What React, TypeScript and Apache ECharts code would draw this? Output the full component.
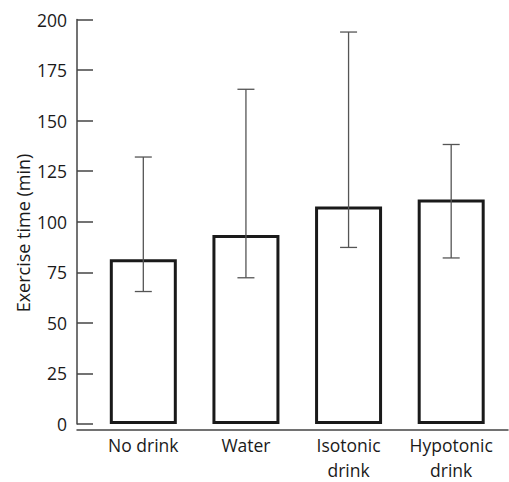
import React, { useEffect, useRef } from "react";
import * as echarts from "echarts";

const categories = ["No drink", "Water", "Isotonic\ndrink", "Hypotonic\ndrink"];
const means = [81.5, 93.5, 107.5, 111];
const errLow = [65.5, 72.3, 87.3, 82.1];
const errHigh = [132, 165.5, 193.8, 138.2];
const yMin = 0;
const yMax = 200;
const yStep = 25;
const yTitle = "Exercise time (min)";

const FONT = "Open Sans";

export default function App() {
  const ref = useRef<HTMLDivElement>(null);
  useEffect(() => {
    if (!ref.current) return;
    const chart = echarts.init(ref.current, undefined, { renderer: "svg" });
    const top = 19.5;
    const bottom = 52;
    chart.setOption({
      animation: false,
      backgroundColor: "#ffffff",
      grid: [
        { left: 92, width: 410.5, top, bottom },
        { left: 77, right: 1, top, bottom },
      ],
      graphic: [
        {
          type: "text",
          x: 23,
          y: 233,
          rotation: Math.PI / 2,
          style: {
            text: yTitle,
            fill: "#1a1a1a",
            font: `18px "${FONT}"`,
            align: "center",
            verticalAlign: "middle",
          },
        },
      ],
      xAxis: [
        {
          type: "category",
          gridIndex: 0,
          data: categories,
          axisLine: { show: false },
          axisTick: { show: false },
          axisLabel: {
            interval: 0,
            hideOverlap: false,
            color: "#1a1a1a",
            fontFamily: FONT,
            fontSize: 17.5,
            lineHeight: 25,
            margin: 8,
          },
        },
        {
          type: "value",
          gridIndex: 1,
          min: 0,
          max: 1,
          axisLine: { show: true, lineStyle: { color: "#444", width: 1.5 } },
          axisTick: { show: false },
          axisLabel: { show: false },
          splitLine: { show: false },
        },
      ],
      yAxis: [
        {
          type: "value",
          gridIndex: 0,
          min: yMin,
          max: yMax,
          interval: yStep,
          offset: 15,
          axisLine: { show: true, lineStyle: { color: "#444", width: 1.5 } },
          axisTick: {
            show: true,
            inside: true,
            length: 16,
            lineStyle: { color: "#444", width: 1.5 },
          },
          axisLabel: {
            color: "#1a1a1a",
            fontFamily: FONT,
            fontSize: 17.5,
            margin: 10,
          },
          splitLine: { show: false },
        },
        {
          type: "value",
          gridIndex: 1,
          min: yMin,
          max: yMax,
          show: false,
        },
      ],
      series: [
        {
          type: "bar",
          xAxisIndex: 0,
          yAxisIndex: 0,
          data: means,
          barWidth: 67,
          itemStyle: { color: "#ffffff", borderColor: "#1a1a1a", borderWidth: 3 },
          z: 2,
        },
        {
          type: "custom",
          xAxisIndex: 0,
          yAxisIndex: 0,
          z: 5,
          encode: { x: 0, y: [1, 2] },
          data: categories.map((_, i) => [i, errLow[i], errHigh[i]]),
          renderItem: (params: any, api: any) => {
            const x = api.value(0);
            const lo = api.coord([x, api.value(1)]);
            const hi = api.coord([x, api.value(2)]);
            const half = 8.5;
            const style = { stroke: "#555", lineWidth: 1.3 };
            return {
              type: "group",
              children: [
                { type: "line", shape: { x1: lo[0], y1: lo[1], x2: hi[0], y2: hi[1] }, style },
                { type: "line", shape: { x1: hi[0] - half, y1: hi[1], x2: hi[0] + half, y2: hi[1] }, style },
                { type: "line", shape: { x1: lo[0] - half, y1: lo[1], x2: lo[0] + half, y2: lo[1] }, style },
              ],
            };
          },
        },
      ],
    });
    return () => chart.dispose();
  }, []);
  return (
    <div
      ref={ref}
      style={{ position: "fixed", left: 0, top: 0, width: 509, height: 482 }}
    />
  );
}
